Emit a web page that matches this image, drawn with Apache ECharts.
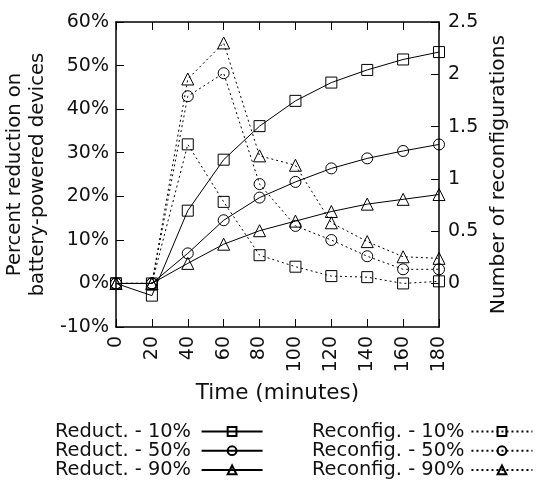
<!DOCTYPE html>
<html>
<head>
<meta charset="utf-8">
<script src="https://cdn.jsdelivr.net/npm/echarts@6/dist/echarts.min.js"></script>
<style>
html,body{margin:0;padding:0;background:#fff;}
#chart{width:542px;height:486px;}
</style>
</head>
<body>
<div id="chart"></div>
<script>
const times = [0, 20, 40, 60, 80, 100, 120, 140, 160, 180];
const reduct10 = [0, -2.8, 16.7, 28.4, 36.1, 41.9, 46.1, 49.0, 51.4, 53.1];
const reduct50 = [0, 0, 6.9, 14.5, 19.7, 23.3, 26.4, 28.7, 30.4, 31.9];
const reduct90 = [0, 0, 4.6, 9.0, 12.1, 14.3, 16.5, 18.2, 19.3, 20.4];
const reconfig10 = [0, 0, 1.33, 0.78, 0.27, 0.16, 0.07, 0.06, 0.0, 0.02];
const reconfig50 = [0, 0, 1.79, 2.01, 0.95, 0.55, 0.415, 0.26, 0.135, 0.135];
const reconfig90 = [0, 0, 1.955, 2.30, 1.22, 1.13, 0.58, 0.40, 0.255, 0.24];
const leftTicks = [-10, 0, 10, 20, 30, 40, 50, 60];
const rightTicks = [0, 0.5, 1, 1.5, 2, 2.5];

const FONT = 'DejaVu Sans';
const TXT = '#111';
const pairs = ys => times.map((t, i) => [t, ys[i]]);

function mk(name, ys, yIdx, symbol, size, dotted) {
  return {
    name, type: 'line', xAxisIndex: 0, yAxisIndex: yIdx,
    data: pairs(ys), symbol, symbolSize: size,
    itemStyle: { color: 'rgba(0,0,0,0)', borderColor: '#000', borderWidth: 1 },
    lineStyle: { color: '#000', width: 1, type: dotted ? [2, 3] : 'solid' },
    emphasis: { disabled: true }
  };
}

const axisLineStyle = { color: '#000', width: 1.5 };
const chart = echarts.init(document.getElementById('chart'), null, { renderer: 'canvas' });
chart.setOption({
  animation: false,
  textStyle: { fontFamily: FONT },
  grid: { left: 116, right: 103, top: 22, bottom: 159, containLabel: false, outerBoundsMode: 'none' },
  legend: [
    {
      data: ['Reduct. - 10%', 'Reduct. - 50%', 'Reduct. - 90%'],
      orient: 'vertical', left: 55, top: 422, align: 'right', padding: 0,
      itemWidth: 61, itemHeight: 11, itemGap: 0.2,
      textStyle: { fontFamily: FONT, fontSize: 19.4, color: TXT, lineHeight: 19, padding: [0, 5.6, 0, 0] },
      selectedMode: false
    },
    {
      data: ['Reconfig. - 10%', 'Reconfig. - 50%', 'Reconfig. - 90%'],
      orient: 'vertical', left: 312, top: 422, align: 'right', padding: 0,
      itemWidth: 61, itemHeight: 11, itemGap: 0.2,
      textStyle: { fontFamily: FONT, fontSize: 19.4, color: TXT, lineHeight: 19, padding: [0, 2, 0, 0] },
      selectedMode: false
    }
  ],
  xAxis: [
    {
      type: 'value', position: 'bottom', min: 0, max: 180, interval: 20,
      axisLine: { show: true, onZero: false, lineStyle: axisLineStyle },
      axisTick: { show: true, inside: true, length: 8, lineStyle: { color: '#000', width: 1 } },
      axisLabel: { rotate: 90, fontSize: 19, color: TXT, margin: 9, fontFamily: FONT },
      splitLine: { show: false },
      name: 'Time (minutes)', nameLocation: 'middle', nameGap: 55,
      nameTextStyle: { fontSize: 21.5, color: TXT, fontFamily: FONT }
    },
    {
      type: 'value', position: 'top', min: 0, max: 180, interval: 20,
      axisLine: { show: true, onZero: false, lineStyle: axisLineStyle },
      axisTick: { show: true, inside: true, length: 8, lineStyle: { color: '#000', width: 1 } },
      axisLabel: { show: false },
      splitLine: { show: false }
    }
  ],
  yAxis: [
    {
      type: 'value', position: 'left', min: -10, max: 60, interval: 10,
      axisLine: { show: true, onZero: false, lineStyle: axisLineStyle },
      axisTick: { show: true, inside: true, length: 8, lineStyle: { color: '#000', width: 1 } },
      axisLabel: { formatter: '{value}%', fontSize: 19, color: TXT, margin: 7, fontFamily: FONT },
      splitLine: { show: false },
      name: 'Percent reduction on\nbattery-powered devices', nameLocation: 'middle', nameGap: 62,
      nameTextStyle: { fontSize: 19.6, color: TXT, lineHeight: 23, fontFamily: FONT }
    },
    {
      type: 'value', position: 'right', min: -10 / 24, max: 2.5,
      axisLine: { show: true, onZero: false, lineStyle: axisLineStyle },
      axisTick: { show: true, inside: true, length: 8, customValues: rightTicks, lineStyle: { color: '#000', width: 1 } },
      axisLabel: { customValues: rightTicks, fontSize: 19, color: TXT, margin: 9, fontFamily: FONT },
      splitLine: { show: false },
      name: 'Number of reconfigurations', nameLocation: 'middle', nameGap: 50,
      nameTextStyle: { fontSize: 20.3, color: TXT, fontFamily: FONT }
    }
  ],
  series: [
    mk('Reduct. - 10%', reduct10, 0, 'rect', 11, false),
    mk('Reduct. - 50%', reduct50, 0, 'circle', 11, false),
    mk('Reduct. - 90%', reduct90, 0, 'triangle', 12, false),
    mk('Reconfig. - 10%', reconfig10, 1, 'rect', 11, true),
    mk('Reconfig. - 50%', reconfig50, 1, 'circle', 11, true),
    mk('Reconfig. - 90%', reconfig90, 1, 'triangle', 12, true)
  ]
});
</script>
</body>
</html>
